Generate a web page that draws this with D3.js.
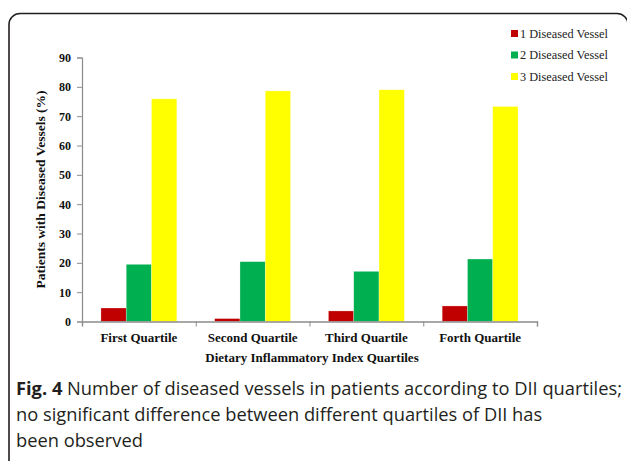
<!DOCTYPE html>
<html>
<head>
<meta charset="utf-8">
<script src="https://cdn.jsdelivr.net/npm/d3@7/dist/d3.min.js"></script>
<style>
  html, body { margin: 0; padding: 0; background: #fff; }
  svg { display: block; }
</style>
</head>
<body>
<script>
// Quartile categories and percentage of patients per number of diseased vessels
const quartiles = ["First Quartile", "Second Quartile", "Third Quartile", "Forth Quartile"];
const seriesNames = ["1 Diseased Vessel", "2 Diseased Vessel", "3 Diseased Vessel"];
const oneVessel = [4.6, 1.0, 3.6, 5.3];
const twoVessel = [19.5, 20.4, 17.1, 21.3];
const threeVessel = [75.9, 78.6, 79.0, 73.3];
const seriesColors = ["#C00000", "#00B050", "#FFFF00"];
const yTicks = [0, 10, 20, 30, 40, 50, 60, 70, 80, 90];

const W = 627, H = 461;
const svg = d3.select("body").append("svg").attr("width", W).attr("height", H);

const serif = "'Liberation Serif', 'Times New Roman', serif";

// Rounded frame around the figure (runs past the bottom and right edges)
svg.append("rect")
  .attr("x", 9).attr("y", 13.5)
  .attr("width", 619).attr("height", 480)
  .attr("rx", 11).attr("ry", 11)
  .attr("fill", "none").attr("stroke", "#231f20").attr("stroke-width", 1.6);

const plot = { left: 82, right: 537, top: 57.5, bottom: 321.5 };

const x0 = d3.scaleBand().domain(quartiles).range([plot.left, plot.right]).paddingInner(0.333).paddingOuter(0.1665);
const x1 = d3.scaleBand().domain(seriesNames).range([0, x0.bandwidth()]);
const y = d3.scaleLinear().domain([0, 90]).range([plot.bottom, plot.top]);

const values = [oneVessel, twoVessel, threeVessel];
const table = quartiles.map((q, i) => ({ q, vals: seriesNames.map((s, j) => ({ s, v: values[j][i], c: seriesColors[j] })) }));

// Bars
const groups = svg.append("g").selectAll("g").data(table).join("g")
  .attr("transform", d => `translate(${x0(d.q)},0)`);
groups.selectAll("rect").data(d => d.vals).join("rect")
  .attr("x", d => x1(d.s))
  .attr("y", d => y(d.v))
  .attr("width", x1.bandwidth())
  .attr("height", d => y(0) - y(d.v))
  .attr("fill", d => d.c)
  .attr("stroke", "rgba(255,255,255,0.45)")
  .attr("stroke-width", 0.6);

const axisColor = "#8c8c8c";

// Y axis
const yAxis = svg.append("g").attr("transform", `translate(${plot.left},0)`)
  .call(d3.axisLeft(y).tickValues(yTicks).tickSize(5).tickPadding(6));
yAxis.select(".domain").attr("stroke", axisColor).attr("stroke-width", 1.2);
yAxis.selectAll(".tick line").attr("stroke", axisColor);
yAxis.selectAll("text")
  .attr("font-family", serif)
  .attr("font-weight", "bold").attr("font-size", 12).attr("fill", "#111");

// X axis: ticks at category boundaries
const xAxisG = svg.append("g").attr("transform", `translate(0,${plot.bottom})`);
const xb = d3.scaleLinear().domain([0, quartiles.length]).range([plot.left, plot.right]);
xAxisG.call(d3.axisBottom(xb).tickValues(d3.range(1, quartiles.length + 1)).tickSize(5).tickFormat(""));
xAxisG.select(".domain").attr("stroke", axisColor).attr("stroke-width", 1.4);
xAxisG.selectAll(".tick line").attr("stroke", axisColor);

// Category labels
svg.append("g").selectAll("text").data(quartiles).join("text")
  .attr("x", d => x0(d) + x0.bandwidth() / 2)
  .attr("y", 341.5)
  .attr("text-anchor", "middle")
  .attr("font-family", serif)
  .attr("font-weight", "bold").attr("font-size", 13).attr("fill", "#111")
  .text(d => d);

// Axis titles
svg.append("text")
  .attr("x", 312).attr("y", 362)
  .attr("text-anchor", "middle")
  .attr("font-family", serif)
  .attr("font-weight", "bold").attr("font-size", 13).attr("fill", "#111")
  .text("Dietary Inflammatory Index Quartiles");

svg.append("text")
  .attr("transform", `translate(45,${(plot.top + plot.bottom) / 2}) rotate(-90)`)
  .attr("text-anchor", "middle")
  .attr("font-family", serif)
  .attr("font-weight", "bold").attr("font-size", 13.5).attr("fill", "#111")
  .text("Patients with Diseased Vessels (%)");

// Legend
const legend = svg.append("g").selectAll("g").data(seriesNames).join("g")
  .attr("transform", (d, i) => `translate(511,${33.5 + i * 21.5})`);
legend.append("rect")
  .attr("x", 0).attr("y", -3.5).attr("width", 7).attr("height", 7)
  .attr("fill", (d, i) => seriesColors[i]);
legend.append("text")
  .attr("x", 9).attr("y", 4)
  .attr("font-family", serif)
  .attr("font-size", 12.3).attr("fill", "#222")
  .text(d => d);

// Figure caption
const caption = svg.append("text")
  .attr("font-family", "'Open Sans', 'Noto Sans', sans-serif")
  .attr("font-size", 18.3).attr("fill", "#231f20");
const l1 = caption.append("tspan").attr("x", 16).attr("y", 395);
l1.append("tspan").attr("font-weight", "bold").text("Fig. 4");
l1.append("tspan").text(" Number of diseased vessels in patients according to DII quartiles;");
caption.append("tspan").attr("x", 16).attr("y", 421).text("no significant difference between different quartiles of DII has");
caption.append("tspan").attr("x", 16).attr("y", 447).text("been observed");
</script>
</body>
</html>
